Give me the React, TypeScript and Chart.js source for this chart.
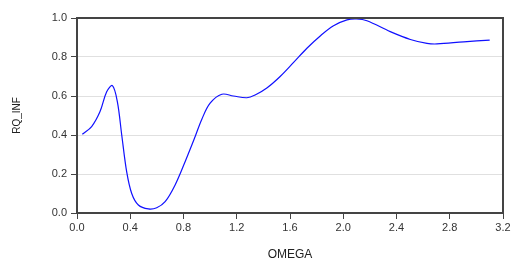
import React, { useEffect, useRef } from "react";
import { Chart, registerables } from "chart.js";

Chart.register(...registerables);

const omega = [0.04, 0.11, 0.173, 0.223, 0.266, 0.303, 0.336, 0.373, 0.411, 0.461, 0.536, 0.599, 0.662, 0.737, 0.812, 0.887, 0.937, 1.0, 1.088, 1.175, 1.276, 1.338, 1.426, 1.526, 1.627, 1.727, 1.827, 1.927, 2.028, 2.1, 2.178, 2.353, 2.504, 2.629, 2.704, 2.905, 3.1];
const rqInf = [0.404, 0.443, 0.52, 0.622, 0.653, 0.571, 0.4, 0.212, 0.1, 0.041, 0.021, 0.027, 0.058, 0.144, 0.263, 0.391, 0.48, 0.563, 0.609, 0.6, 0.591, 0.605, 0.641, 0.7, 0.772, 0.845, 0.908, 0.96, 0.99, 0.995, 0.986, 0.93, 0.89, 0.87, 0.867, 0.878, 0.887];
const xTitle = "OMEGA";
const yTitle = "RQ_INF";

const FONT = "'Liberation Sans', Arial, sans-serif";

const framePlugin = {
  id: "frame",
  afterDraw(chart: any) {
    const { ctx, chartArea } = chart;
    ctx.save();
    ctx.strokeStyle = "#444444";
    ctx.lineWidth = 2;
    ctx.strokeRect(chartArea.left, chartArea.top, chartArea.right - chartArea.left, chartArea.bottom - chartArea.top);
    ctx.restore();
  },
};

export default function App() {
  const ref = useRef<HTMLCanvasElement>(null);
  useEffect(() => {
    document.body.style.margin = "0";
    const chart = new Chart(ref.current!, {
      type: "line",
      data: {
        datasets: [
          {
            data: omega.map((x, i) => ({ x, y: rqInf[i] })),
            borderColor: "#1010ff",
            borderWidth: 1.2,
            pointRadius: 0,
            tension: 0.35,
            fill: false,
          },
        ],
      },
      options: {
        animation: false,
        responsive: false,
        layout: { padding: { top: 18, right: 10, left: 0, bottom: 0 } },
        plugins: { legend: { display: false }, tooltip: { enabled: false } },
        scales: {
          x: {
            type: "linear",
            min: 0,
            max: 3.2,
            afterFit: (s: any) => {
              s.height = 53;
              s.paddingLeft = 0;
              s.paddingRight = 0;
            },
            ticks: {
              stepSize: 0.4,
              callback: (v: any) => Number(v).toFixed(1),
              color: "#333333",
              font: { family: FONT, size: 11 },
              padding: 2,
              maxRotation: 0,
            },
            grid: { drawOnChartArea: false, drawTicks: true, tickLength: 6, tickColor: "#444444" },
            border: { color: "#444444", width: 2 },
            title: { display: true, text: xTitle, color: "#222222", font: { family: FONT, size: 12 }, padding: { top: 0, bottom: 4 } },
          },
          y: {
            min: 0,
            max: 1,
            afterFit: (s: any) => {
              s.width = 77;
              s.paddingTop = 0;
              s.paddingBottom = 0;
            },
            ticks: {
              stepSize: 0.2,
              callback: (v: any) => Number(v).toFixed(1),
              color: "#333333",
              font: { family: FONT, size: 11 },
              padding: 4,
            },
            grid: { color: "#e0e0e0", lineWidth: 1, drawTicks: true, tickLength: 6, tickColor: "#444444" },
            border: { color: "#444444", width: 2 },
            title: { display: true, text: yTitle, color: "#222222", font: { family: FONT, size: 10 }, padding: { top: 11, bottom: 0 } },
          },
        },
      },
      plugins: [framePlugin],
    } as any);
    return () => chart.destroy();
  }, []);
  return (
    <div style={{ position: "fixed", left: 0, top: 0, width: 513, height: 266, background: "#fff" }}>
      <canvas ref={ref} width={513} height={266} />
    </div>
  );
}
